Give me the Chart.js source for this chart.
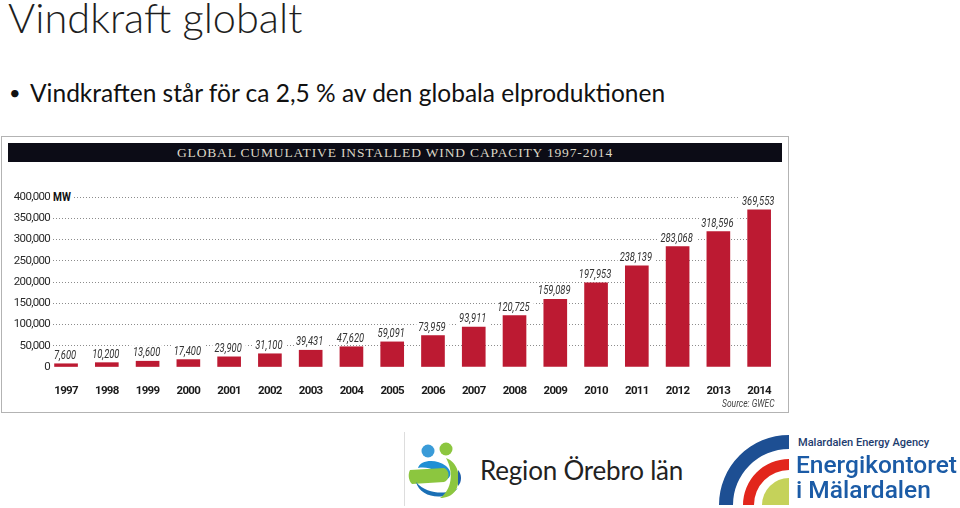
<!DOCTYPE html>
<html>
<head>
<meta charset="utf-8">
<script src="https://cdn.jsdelivr.net/npm/chart.js@4.4.1/dist/chart.umd.min.js"></script>
<style>
  body { margin:0; width:960px; height:508px; background:#fff; position:relative; overflow:hidden; font-family:Lato, sans-serif; }
  .abs { position:absolute; white-space:nowrap; }
  .narrow { transform-origin:0 0; }
  #title { left:8px; top:-8px; font:300 41.5px Lato, sans-serif; color:#1e1e1e; }
  #bullet { left:9px; top:78px; font:400 24.5px Lato, sans-serif; color:#111; }
  #bullet span { display:inline-block; width:21px; font-size:20px; vertical-align:2px; }
  #chartBox { left:1px; top:136px; width:786px; height:275px; border:1px solid #b3b3b3; }
  #header { left:8px; top:143px; width:774px; height:19px; background:#0c0c16; color:#dcd7c6;
            font:13.5px "Liberation Serif", serif; letter-spacing:0.85px; line-height:20px; text-align:center; }
  #mw { left:53px; top:190px; font:bold 12px Roboto, sans-serif; color:#111; background:#fff; padding-right:3px; z-index:2; transform:scaleX(0.85); }
  #source { left:722px; top:398px; font:italic 10px Roboto, sans-serif; color:#444; transform:scaleX(0.85); }
  #wind { left:2px; top:164px; }
  #divider { left:404px; top:432px; width:1px; height:74px; background:#ddd; }
</style>
</head>
<body>
<div class="abs" id="title">Vindkraft globalt</div>
<div class="abs" id="bullet"><span>•</span>Vindkraften står för ca 2,5 % av den globala elproduktionen</div>

<div class="abs" id="chartBox"></div>
<div class="abs" id="header">GLOBAL CUMULATIVE INSTALLED WIND CAPACITY 1997-2014</div>
<canvas class="abs" id="wind" width="786" height="248"></canvas>
<div class="abs narrow" id="mw">MW</div>
<div class="abs narrow" id="source">Source: GWEC</div>

<div class="abs" id="divider"></div>
<svg class="abs" style="left:405px;top:430px" width="80" height="78" viewBox="405 430 80 78">
  <circle cx="428" cy="451" r="6.5" fill="#3a9bd8"/>
  <circle cx="446" cy="449" r="6.5" fill="#8cc63f"/>
  <path d="M418 468 C420 460 436 458 446 466 C452 471 452 478 445 480 C438 470 428 466 418 468 Z" fill="#1f8fd4"/>
  <path d="M410 470 L444 468 C450 470 450 480 444 482 L412 484 C408 480 408 474 410 470 Z" fill="#8cc63f"/>
  <path d="M416 482 C420 498 446 502 458 488 C450 494 428 496 416 482 Z" fill="#1a6fb5"/>
  <path d="M446 458 C458 462 462 478 456 490 C452 496 446 498 440 498 C452 490 454 472 446 458 Z" fill="#8cc63f"/>
  <path d="M458 470 C462 474 462 482 458 486 Z" fill="#1f5fa8"/>
</svg>
<div class="abs" style="left:480px;top:454px;font:400 26px Lato, sans-serif;color:#222;letter-spacing:-0.2px">Region Örebro län</div>

<svg class="abs" style="left:715px;top:428px" width="80" height="80" viewBox="715 428 80 80">
  <path d="M719 505 A70 70 0 0 1 789 435 L789 449 A56 56 0 0 0 733 505 Z" fill="#1d4f93"/>
  <path d="M743 505 A46 46 0 0 1 789 459 L789 470 A35 35 0 0 0 754 505 Z" fill="#e2261c"/>
  <path d="M762 505 A27 27 0 0 1 789 478 L789 505 Z" fill="#c5d25a"/>
</svg>
<div class="abs narrow" style="left:798px;top:435px;font:500 11.5px Roboto, sans-serif;color:#1d3c6e;transform:scaleX(0.96)">Malardalen Energy Agency</div>
<div class="abs narrow" style="left:796px;top:452px;font:500 24.5px Roboto, sans-serif;color:#1b5ba6;line-height:25px">Energikontoret<br>i Mälardalen</div>

<script>
// Global cumulative installed wind capacity (MW), source GWEC
const years = ['1997', '1998', '1999', '2000', '2001', '2002', '2003', '2004', '2005',
               '2006', '2007', '2008', '2009', '2010', '2011', '2012', '2013', '2014'];
const capacityMW = [7600, 10200, 13600, 17400, 23900, 31100, 39431, 47620, 59091,
                    73959, 93911, 120725, 159089, 197953, 238139, 283068, 318596, 369553];
const yTickLabels = ['0', '50,000', '100,000', '150,000', '200,000', '250,000', '300,000', '350,000', '400,000'];

const BAR_RED = '#bc1a32';
const FONT = 'Roboto, sans-serif';

// tighter letters, the original uses a condensed face
const tightText = {
  id: 'tightText',
  beforeDraw(chart) { chart.ctx.letterSpacing = '-0.7px'; }
};

// value labels sit on a white patch above each bar (hides the dotted grid behind them)
const valueLabels = {
  id: 'valueLabels',
  afterDatasetsDraw(chart) {
    const ctx = chart.ctx;
    const meta = chart.getDatasetMeta(0);
    ctx.save();
    ctx.letterSpacing = '0px';
    ctx.font = 'italic 13px ' + FONT;
    ctx.textAlign = 'center';
    ctx.textBaseline = 'alphabetic';
    meta.data.forEach((bar, i) => {
      const txt = capacityMW[i].toLocaleString('en-US');
      const w = ctx.measureText(txt).width * 0.72;
      const y = bar.y - 5;
      ctx.fillStyle = '#fff';
      ctx.fillRect(bar.x - w / 2 - 3, y - 11, w + 6, 14);
      ctx.save();
      ctx.translate(bar.x - 1, y);
      ctx.scale(0.72, 1);
      ctx.fillStyle = '#333';
      ctx.fillText(txt, 0, 0);
      ctx.restore();
    });
    ctx.restore();
  }
};

new Chart(document.getElementById('wind'), {
  type: 'bar',
  data: {
    datasets: [{
      data: capacityMW.map((v, i) => ({ x: i, y: v })),
      backgroundColor: BAR_RED,
      barThickness: 23,
      borderWidth: 0
    }]
  },
  options: {
    responsive: false,
    animation: false,
    layout: { padding: { top: 33, right: 15, left: 0, bottom: 0 } },
    plugins: { legend: { display: false }, tooltip: { enabled: false } },
    scales: {
      x: {
        type: 'linear',
        offset: false,
        min: -0.32,
        max: 17.34,
        grid: { display: false },
        border: { display: false },
        afterBuildTicks: s => { s.ticks = years.map((_, i) => ({ value: i })); },
        afterFit: s => { s.height = 45; },
        ticks: {
          autoSkip: false, maxRotation: 0, padding: 9,
          color: '#1a1a1a', font: { family: FONT, size: 11.5, weight: 'bold' },
          callback: v => years[v]
        }
      },
      y: {
        min: 0,
        max: 400000,
        afterFit: s => { s.width = 51; },
        grid: {
          drawTicks: false,
          color: c => c.tick && c.tick.value === 0 ? 'rgba(0,0,0,0)' : '#8c8c8c'
        },
        border: { display: false, dash: [1, 2] },
        ticks: {
          stepSize: 50000, padding: 3,
          color: '#2a2a2a', font: { family: FONT, size: 11.5 },
          callback: (v, i) => yTickLabels[i]
        }
      }
    }
  },
  plugins: [tightText, valueLabels]
});
</script>
</body>
</html>
